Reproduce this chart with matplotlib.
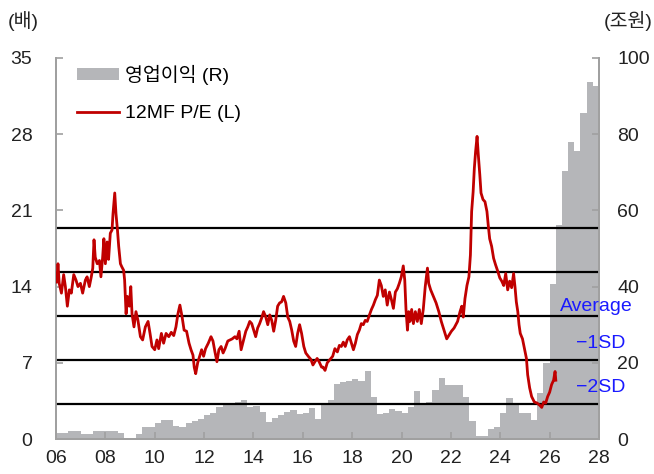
import matplotlib
matplotlib.use("Agg")
import matplotlib.pyplot as plt
from matplotlib.transforms import blended_transform_factory
from matplotlib.patches import Patch
from matplotlib.lines import Line2D

plt.rcParams['font.family'] = ['Liberation Sans', 'Noto Sans CJK KR', 'DejaVu Sans']

# ---------------- data ----------------
# quarterly operating profit (trillion won), 2006Q1 .. 2027Q4
op_start_year = 2006
op_profit = [
    1.6, 1.6, 2.1, 2.1,      # 2006
    1.2, 1.2, 2.2, 2.2,      # 2007
    2.2, 2.1, 1.6, -0.15,    # 2008
    0.2, 1.2, 3.1, 3.1,      # 2009
    4.3, 5.0, 5.0, 3.5,      # 2010
    3.2, 4.3, 4.8, 5.2,      # 2011
    6.3, 6.9, 8.4, 9.0,      # 2012
    9.0, 9.6, 10.3, 8.5,     # 2013
    8.6, 7.2, 4.4, 5.5,      # 2014
    6.2, 7.0, 7.5, 6.5,      # 2015
    6.9, 8.2, 5.3, 9.4,      # 2016
    10.2, 14.4, 14.9, 15.3,  # 2017
    15.7, 15.2, 17.8, 11.0,  # 2018
    6.5, 6.9, 7.9, 7.3,      # 2019
    6.7, 8.4, 12.6, 9.5,     # 2020
    9.6, 12.8, 16.0, 14.3,   # 2021
    14.3, 14.3, 10.9, 4.7,   # 2022
    0.8, 0.8, 2.6, 3.1,      # 2023
    6.7, 10.7, 9.3, 6.9,     # 2024
    6.9, 5.0, 12.2, 20.0,    # 2025
    40.8, 56.1, 70.3, 77.9,  # 2026
    75.7, 85.5, 93.8, 92.7,  # 2027
]

# 12MF P/E (x)
pe_year = [
    2006.00, 2006.03, 2006.08, 2006.13, 2006.22, 2006.31, 2006.38, 2006.46, 2006.54, 2006.62,
    2006.72, 2006.81, 2006.89, 2006.99, 2007.08, 2007.19, 2007.26, 2007.35, 2007.43, 2007.49,
    2007.54, 2007.59, 2007.67, 2007.76, 2007.82, 2007.89, 2007.94, 2008.00, 2008.07, 2008.13,
    2008.20, 2008.27, 2008.31, 2008.38, 2008.43, 2008.49, 2008.54, 2008.61, 2008.67, 2008.74,
    2008.78, 2008.84, 2008.89, 2008.97, 2009.03, 2009.08, 2009.16, 2009.24, 2009.32, 2009.42,
    2009.51, 2009.62, 2009.73, 2009.81, 2009.89, 2010.00, 2010.09, 2010.16, 2010.27, 2010.36,
    2010.46, 2010.57, 2010.67, 2010.77, 2010.86, 2010.94, 2011.02, 2011.11, 2011.19, 2011.29,
    2011.39, 2011.47, 2011.55, 2011.60, 2011.66, 2011.74, 2011.82, 2011.90, 2011.98, 2012.06,
    2012.17, 2012.28, 2012.36, 2012.44, 2012.52, 2012.60, 2012.69, 2012.77, 2012.85, 2012.96,
    2013.05, 2013.14, 2013.25, 2013.33, 2013.42, 2013.50, 2013.59, 2013.69, 2013.77, 2013.85,
    2013.93, 2014.01, 2014.09, 2014.17, 2014.25, 2014.33, 2014.41, 2014.50, 2014.58, 2014.66,
    2014.74, 2014.82, 2014.90, 2014.98, 2015.06, 2015.14, 2015.22, 2015.31, 2015.39, 2015.47,
    2015.55, 2015.63, 2015.71, 2015.79, 2015.87, 2015.95, 2016.04, 2016.12, 2016.22, 2016.33,
    2016.41, 2016.49, 2016.58, 2016.66, 2016.76, 2016.82, 2016.90, 2016.99, 2017.10, 2017.21,
    2017.30, 2017.40, 2017.48, 2017.56, 2017.64, 2017.72, 2017.80, 2017.89, 2017.97, 2018.05,
    2018.13, 2018.21, 2018.29, 2018.37, 2018.45, 2018.53, 2018.61, 2018.70, 2018.78, 2018.86,
    2018.94, 2019.02, 2019.10, 2019.18, 2019.26, 2019.34, 2019.42, 2019.51, 2019.59, 2019.67,
    2019.75, 2019.83, 2019.91, 2019.99, 2020.07, 2020.13, 2020.18, 2020.24, 2020.29, 2020.34,
    2020.41, 2020.48, 2020.56, 2020.64, 2020.72, 2020.80, 2020.88, 2020.96, 2021.05, 2021.10,
    2021.18, 2021.29, 2021.40, 2021.51, 2021.61, 2021.72, 2021.83, 2021.91, 2022.02, 2022.13,
    2022.20, 2022.27, 2022.37, 2022.44, 2022.50, 2022.57, 2022.65, 2022.73, 2022.79, 2022.84,
    2022.90, 2022.95, 2023.00, 2023.06, 2023.11, 2023.17, 2023.22, 2023.30, 2023.38, 2023.46,
    2023.51, 2023.57, 2023.65, 2023.73, 2023.81, 2023.90, 2023.98, 2024.06, 2024.14, 2024.22,
    2024.30, 2024.38, 2024.46, 2024.54, 2024.60, 2024.65, 2024.71, 2024.76, 2024.81, 2024.90,
    2024.98, 2025.06, 2025.11, 2025.19, 2025.27, 2025.38, 2025.49, 2025.60, 2025.68, 2025.76,
    2025.84, 2025.92, 2026.00, 2026.08, 2026.16, 2026.22, 2026.25,
]
pe_value = [
    15.0, 14.4, 16.1, 14.3, 13.4, 15.1, 14.0, 12.2, 13.7, 13.4,
    15.1, 14.6, 14.0, 14.3, 13.4, 14.6, 14.9, 14.0, 14.9, 15.7,
    18.3, 16.7, 16.1, 16.4, 14.9, 16.7, 18.4, 16.1, 18.1, 16.5,
    18.9, 19.2, 20.7, 22.6, 20.7, 19.2, 17.7, 16.1, 15.8, 15.5,
    14.6, 11.5, 13.1, 12.2, 14.0, 11.5, 10.3, 11.7, 10.9, 9.4,
    9.1, 10.3, 10.8, 9.7, 8.5, 8.2, 9.1, 8.3, 9.7, 8.8,
    9.7, 9.4, 9.8, 9.5, 10.3, 11.5, 12.3, 11.2, 10.0, 9.9,
    8.8, 8.2, 7.7, 6.6, 6.0, 7.0, 7.6, 8.2, 7.6, 8.3,
    8.8, 9.4, 9.0, 8.0, 7.1, 8.2, 8.5, 7.9, 8.3, 9.0,
    9.1, 9.2, 9.4, 9.2, 9.9, 8.2, 9.0, 9.9, 10.3, 10.8,
    10.6, 10.0, 9.4, 10.2, 10.6, 11.1, 11.7, 11.2, 10.5, 11.4,
    10.9, 9.9, 10.9, 12.2, 12.5, 12.6, 13.1, 12.5, 11.2, 10.8,
    10.0, 9.0, 8.5, 9.7, 10.5, 9.7, 8.5, 7.9, 7.6, 7.3,
    6.8, 7.1, 7.4, 7.1, 6.6, 6.6, 6.3, 7.0, 7.3, 7.6,
    8.3, 8.0, 8.6, 8.5, 8.9, 8.5, 9.1, 9.4, 8.8, 8.2,
    8.8, 9.6, 10.0, 10.6, 10.5, 10.9, 10.8, 11.4, 11.9, 12.3,
    12.8, 13.2, 14.6, 14.1, 13.1, 13.7, 12.3, 13.5, 12.8, 12.0,
    13.5, 13.8, 14.3, 14.9, 15.9, 14.6, 11.9, 10.0, 11.7, 10.8,
    11.9, 10.6, 11.7, 10.8, 11.9, 10.6, 11.9, 14.0, 15.7, 14.3,
    13.7, 13.1, 12.5, 11.7, 10.8, 10.0, 9.2, 9.5, 9.9, 10.2,
    10.5, 10.8, 11.7, 12.2, 11.2, 12.9, 14.1, 14.9, 16.9, 20.9,
    22.7, 24.9, 26.4, 27.8, 26.1, 24.3, 22.6, 22.0, 21.8, 20.9,
    19.7, 18.4, 17.7, 16.6, 16.0, 15.4, 14.8, 14.5, 14.1, 15.2,
    13.7, 14.5, 13.9, 15.2, 13.9, 12.6, 11.7, 10.5, 9.7, 9.2,
    8.3, 7.4, 5.9, 4.7, 3.9, 3.4, 3.3, 3.1, 2.9, 3.4,
    3.3, 3.9, 4.3, 5.0, 5.4, 6.2, 5.4,
]

# band lines (+2SD, +1SD, average, -1SD, -2SD)
band_levels = [19.4, 15.35, 11.3, 7.25, 3.2]
band_labels = ['Average', '\u22121SD', '\u22122SD']
band_label_y = [12.2, 8.8, 4.7]

x_ticks = list(range(2006, 2029, 2))
x_ticklabels = [f"{y % 100:02d}" for y in x_ticks]
left_ticks = [0, 7, 14, 21, 28, 35]
right_ticks = [0, 20, 40, 60, 80, 100]

# ---------------- figure ----------------
W, H = 654, 474
fig = plt.figure(figsize=(W / 100, H / 100), dpi=100)
L, R, B, T = 56, 599, 439, 58
ax = fig.add_axes([L / W, 1 - B / H, (R - L) / W, (B - T) / H])
ax2 = ax.twinx()
ax.set_zorder(2)
ax2.set_zorder(1)
ax.patch.set_visible(False)

bar_color = '#b5b6b9'
n = len(op_profit)
bar_x = [op_start_year + i / 4 for i in range(n)]
ax2.bar(bar_x, op_profit, width=0.25, align='edge', color=bar_color, linewidth=0)

for lv in band_levels:
    ax.axhline(lv, color='black', lw=1.6, zorder=2)

ax.plot(pe_year, pe_value, color='#c00000', lw=2.0, zorder=3)

ax.set_xlim(2006, 2028)
ax.set_ylim(0, 35)
ax2.set_ylim(0, 100)
ax.set_xticks(x_ticks)
ax.set_xticklabels(x_ticklabels)
ax.set_yticks(left_ticks)
ax2.set_yticks(right_ticks)

spine_c = '#a0a0a0'
for a in (ax, ax2):
    for s in a.spines.values():
        s.set_color(spine_c)
        s.set_linewidth(1.3)
    a.spines['top'].set_visible(False)

ax.tick_params(axis='y', direction='in', length=5, width=1.2, color=spine_c,
               labelsize=14, pad=17, labelcolor='#222222')
ax.tick_params(axis='x', direction='in', length=5, width=1.2, color=spine_c,
               labelsize=14, pad=8, labelcolor='#222222')
ax2.tick_params(axis='y', direction='in', length=5, width=1.2, color=spine_c,
                labelsize=14, pad=13, labelcolor='#222222')

# band labels
tr = blended_transform_factory(ax.transAxes, ax.transData)
ax.text((633 - L) / (R - L), band_label_y[0], band_labels[0], transform=tr,
        ha='right', va='center', color='#1a1aff', fontsize=14, clip_on=False, zorder=5)
for lab, yv in zip(band_labels[1:], band_label_y[1:]):
    ax.text((625 - L) / (R - L), yv, lab, transform=tr,
            ha='right', va='center', color='#1a1aff', fontsize=14, clip_on=False, zorder=5)

# unit labels
fig.text(8 / W, 1 - 21 / H, '(배)', ha='left', va='center', fontsize=14, color='#222222')
fig.text(653 / W, 1 - 21 / H, '(조원)', ha='right', va='center', fontsize=14, color='#222222')

# legend
handles = [Patch(facecolor=bar_color, edgecolor='none'),
           Line2D([0], [0], color='#c00000', lw=2.0)]
leg = ax.legend(handles, ['영업이익 (R)', '12MF P/E (L)'], loc='upper left',
                bbox_to_anchor=(61 / W, 1 - 49 / H), bbox_transform=fig.transFigure,
                frameon=False, fontsize=14, handlelength=2.2, handletextpad=0.3,
                handleheight=0.55, labelspacing=1.05, borderpad=0.3)

fig.savefig('out.png', dpi=100)
